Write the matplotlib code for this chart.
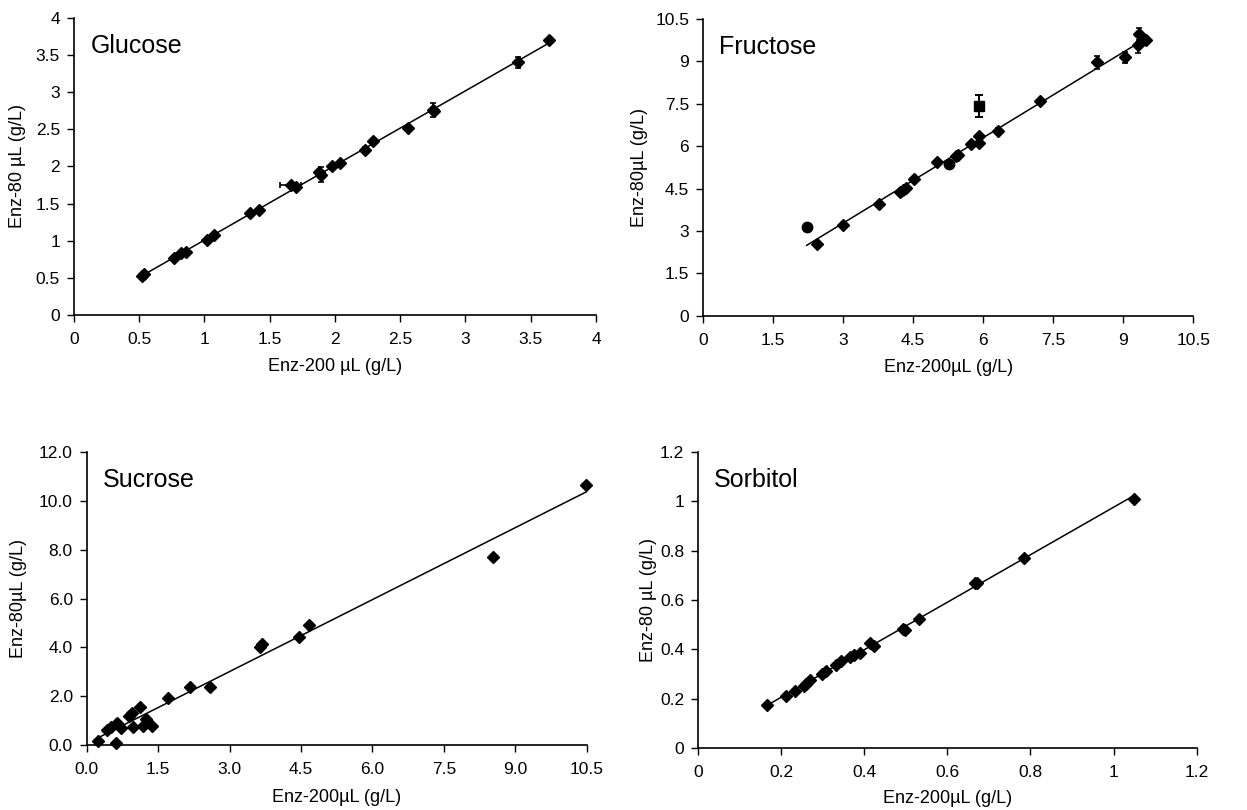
import numpy as np
import matplotlib
matplotlib.use("Agg")
import matplotlib.pyplot as plt

plt.rcParams['font.family'] = ['Liberation Sans', 'DejaVu Sans']

# --- Glucose ---
glu_x = [0.52, 0.54, 0.77, 0.82, 0.86, 1.02, 1.07, 1.35, 1.42, 1.66, 1.70, 1.88, 1.89,
         1.98, 2.04, 2.23, 2.29, 2.56, 2.75, 2.76, 3.40, 3.64]
glu_y = [0.52, 0.55, 0.77, 0.83, 0.85, 1.01, 1.08, 1.38, 1.42, 1.75, 1.72, 1.92, 1.89,
         2.01, 2.05, 2.22, 2.34, 2.52, 2.76, 2.74, 3.40, 3.70]
glu_xerr = [0, 0, 0, 0, 0, 0, 0, 0, 0, 0.08, 0, 0, 0, 0, 0, 0, 0, 0, 0, 0, 0, 0]
glu_yerr = [0, 0, 0, 0, 0, 0, 0, 0, 0, 0, 0, 0, 0.1, 0, 0, 0.04, 0, 0, 0.1, 0, 0.07, 0]

# --- Fructose ---
fru_x = [2.45, 2.99, 3.78, 4.23, 4.29, 4.35, 4.53, 5.01, 5.41, 5.46, 5.74, 5.92, 5.92,
         6.31, 7.22, 8.45, 9.03, 9.32, 9.34, 9.48]
fru_y = [2.55, 3.20, 3.95, 4.38, 4.46, 4.54, 4.84, 5.45, 5.65, 5.69, 6.08, 6.11, 6.35,
         6.55, 7.60, 8.97, 9.15, 9.59, 9.97, 9.77]
fru_yerr = [0, 0, 0, 0, 0, 0, 0, 0, 0, 0, 0, 0, 0, 0.1, 0, 0.22, 0.2, 0.3, 0.2, 0]
fru_circ_x = [2.22, 5.26]
fru_circ_y = [3.13, 5.36]
fru_out_x = [5.92]
fru_out_y = [7.43]
fru_out_err = [0.4]

# --- Sucrose ---
suc_x = [0.23, 0.62, 0.43, 0.52, 0.63, 0.73, 0.88, 0.95, 1.11, 0.97, 1.24, 1.18, 1.37,
         1.70, 2.18, 2.59, 3.63, 3.68, 4.45, 4.66, 8.54, 10.49]
suc_y = [0.16, 0.07, 0.62, 0.75, 0.92, 0.68, 1.20, 1.33, 1.57, 0.72, 1.06, 0.76, 0.78,
         1.94, 2.39, 2.39, 4.01, 4.14, 4.44, 4.91, 7.70, 10.64]

# --- Sorbitol ---
sor_x = [0.167, 0.211, 0.233, 0.255, 0.260, 0.270, 0.299, 0.309, 0.331, 0.345, 0.367,
         0.375, 0.389, 0.415, 0.423, 0.493, 0.497, 0.533, 0.667, 0.671, 0.784, 1.048]
sor_y = [0.173, 0.211, 0.230, 0.252, 0.261, 0.275, 0.302, 0.313, 0.336, 0.353, 0.370,
         0.376, 0.387, 0.427, 0.414, 0.481, 0.478, 0.525, 0.668, 0.668, 0.772, 1.011]

glu_ticks = [0, 0.5, 1, 1.5, 2, 2.5, 3, 3.5, 4]
glu_labels = ['0', '0.5', '1', '1.5', '2', '2.5', '3', '3.5', '4']
fru_ticks = [0, 1.5, 3, 4.5, 6, 7.5, 9, 10.5]
fru_labels = ['0', '1.5', '3', '4.5', '6', '7.5', '9', '10.5']
suc_xticks = [0, 1.5, 3, 4.5, 6, 7.5, 9, 10.5]
suc_xlabels = ['0.0', '1.5', '3.0', '4.5', '6.0', '7.5', '9.0', '10.5']
suc_yticks = [0, 2, 4, 6, 8, 10, 12]
suc_ylabels = ['0.0', '2.0', '4.0', '6.0', '8.0', '10.0', '12.0']
sor_ticks = [0, 0.2, 0.4, 0.6, 0.8, 1.0, 1.2]
sor_labels = ['0', '0.2', '0.4', '0.6', '0.8', '1', '1.2']

fig = plt.figure(figsize=(12.47, 8.10), dpi=100)
ax1 = fig.add_axes([0.0593, 0.611, 0.4186, 0.367])
ax2 = fig.add_axes([0.5638, 0.610, 0.393, 0.3665])
ax3 = fig.add_axes([0.0695, 0.0802, 0.401, 0.3618])
ax4 = fig.add_axes([0.5597, 0.0765, 0.400, 0.3655])


def style(ax, xt, xl, yt, yl, name, xlabel, ylabel, ylab_x, xlab_y):
    for s in ['top', 'right']:
        ax.spines[s].set_visible(False)
    for s in ['left', 'bottom']:
        ax.spines[s].set_linewidth(1.2)
    ax.set_xticks(xt)
    ax.set_xticklabels(xl)
    ax.set_yticks(yt)
    ax.set_yticklabels(yl)
    ax.set_xlim(xt[0], xt[-1])
    ax.set_ylim(yt[0], yt[-1])
    ax.tick_params(direction='out', length=5, width=1, labelsize=12.5)
    ax.tick_params(axis='x', pad=7)
    ax.tick_params(axis='y', pad=5)
    ax.set_xlabel(xlabel, fontsize=13)
    ax.set_ylabel(ylabel, fontsize=13)
    ax.yaxis.set_label_coords(ylab_x, 0.5)
    ax.xaxis.set_label_coords(0.5, xlab_y)
    ax.text(0.032, 0.905, name, transform=ax.transAxes, fontsize=18, va='center', ha='left')
    for lab in ax.get_xticklabels() + ax.get_yticklabels():
        lab.set_clip_on(False)


def trend(ax, x, y):
    k, b = np.polyfit(x, y, 1)
    xs = np.array([min(x), max(x)])
    ax.plot(xs, k * xs + b, color='black', lw=1.1, zorder=2)


mk = dict(fmt='D', color='black', ms=6.5, elinewidth=1.2, capsize=2.5, capthick=1.2, zorder=3)

# Glucose
trend(ax1, glu_x, glu_y)
ax1.errorbar(glu_x, glu_y, xerr=glu_xerr, yerr=glu_yerr, **mk)
style(ax1, glu_ticks, glu_labels, glu_ticks, glu_labels, 'Glucose',
      'Enz-200 µL (g/L)', 'Enz-80 µL (g/L)', -0.092, -0.145)

# Fructose
trend(ax2, fru_x + fru_circ_x, fru_y + fru_circ_y)
ax2.errorbar(fru_x, fru_y, yerr=fru_yerr, **mk)
ax2.plot(fru_circ_x, fru_circ_y, 'o', color='black', ms=7.5, zorder=3)
ax2.errorbar(fru_out_x, fru_out_y, yerr=fru_out_err, fmt='s', color='black', ms=6.5,
             elinewidth=1.4, capsize=3, capthick=1.4, zorder=3)
style(ax2, fru_ticks, fru_labels, fru_ticks, fru_labels, 'Fructose',
      'Enz-200µL (g/L)', 'Enz-80µL (g/L)', -0.112, -0.145)

# Sucrose
trend(ax3, suc_x, suc_y)
ax3.plot(suc_x, suc_y, 'D', color='black', ms=6.5, zorder=3, clip_on=False)
style(ax3, suc_xticks, suc_xlabels, suc_yticks, suc_ylabels, 'Sucrose',
      'Enz-200µL (g/L)', 'Enz-80µL (g/L)', -0.12, -0.15)

# Sorbitol
trend(ax4, sor_x, sor_y)
ax4.plot(sor_x, sor_y, 'D', color='black', ms=6.5, zorder=3)
style(ax4, sor_ticks, sor_labels, sor_ticks, sor_labels, 'Sorbitol',
      'Enz-200µL (g/L)', 'Enz-80 µL (g/L)', -0.082, -0.142)

fig.savefig('out.png', dpi=100, facecolor='white')
